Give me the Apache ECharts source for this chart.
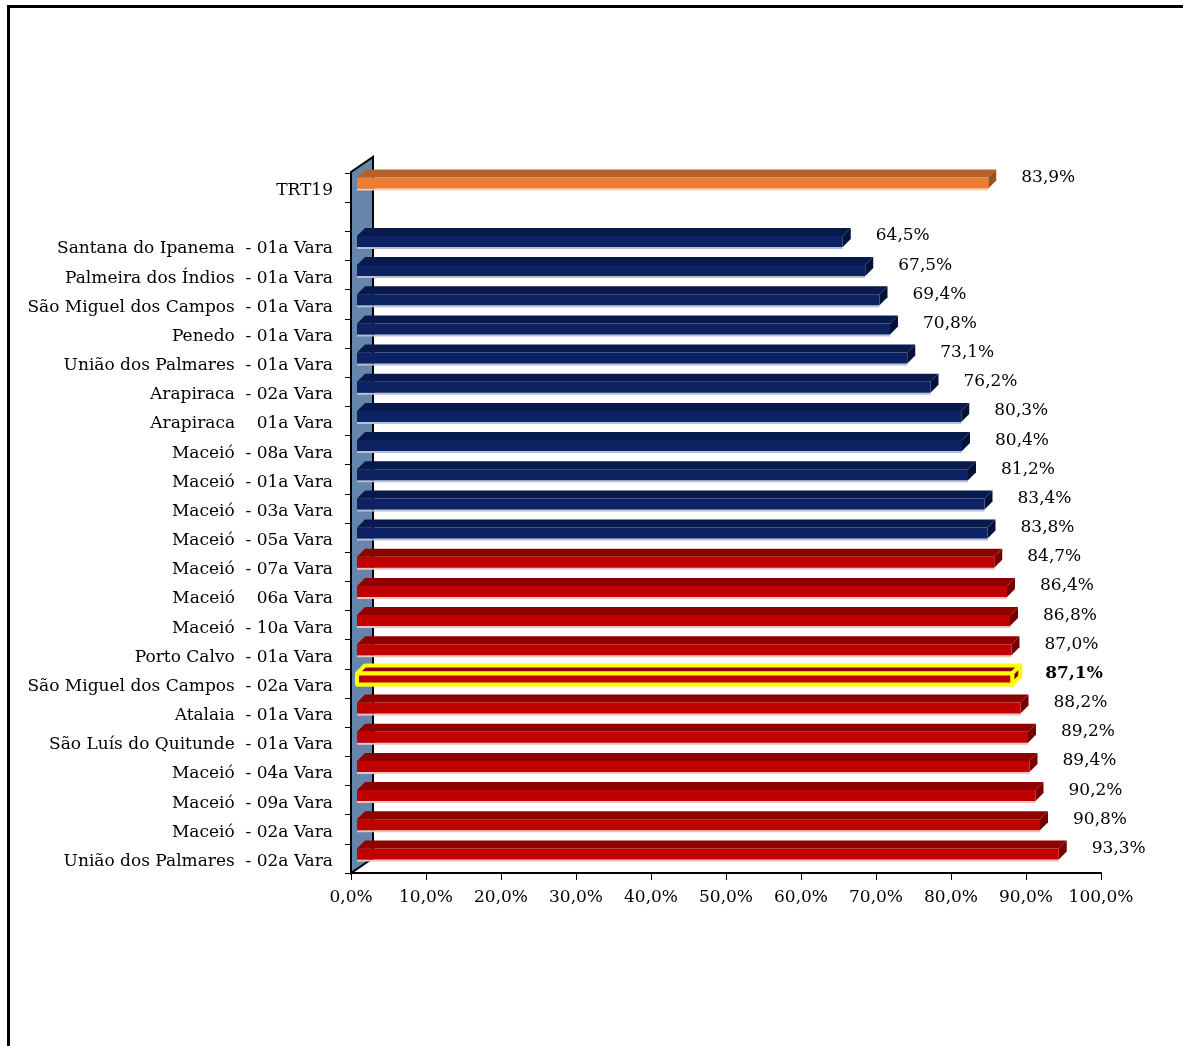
<!DOCTYPE html>
<html><head><meta charset="utf-8">
<script src="https://cdn.jsdelivr.net/npm/echarts@6/dist/echarts.min.js"></script>
<style>html,body{margin:0;padding:0;background:#fff}#c{width:1185px;height:1046px}</style>
</head><body><div id="c"></div>
<script>
// ---- data (top to bottom) ----
const categories = [
  'TRT19', '',
  'Santana do Ipanema  - 01a Vara',
  'Palmeira dos Índios  - 01a Vara',
  'São Miguel dos Campos  - 01a Vara',
  'Penedo  - 01a Vara',
  'União dos Palmares  - 01a Vara',
  'Arapiraca  - 02a Vara',
  'Arapiraca    01a Vara',
  'Maceió  - 08a Vara',
  'Maceió  - 01a Vara',
  'Maceió  - 03a Vara',
  'Maceió  - 05a Vara',
  'Maceió  - 07a Vara',
  'Maceió    06a Vara',
  'Maceió  - 10a Vara',
  'Porto Calvo  - 01a Vara',
  'São Miguel dos Campos  - 02a Vara',
  'Atalaia  - 01a Vara',
  'São Luís do Quitunde  - 01a Vara',
  'Maceió  - 04a Vara',
  'Maceió  - 09a Vara',
  'Maceió  - 02a Vara',
  'União dos Palmares  - 02a Vara'
];
const values = [83.9, null, 64.5, 67.5, 69.4, 70.8, 73.1, 76.2, 80.3, 80.4, 81.2, 83.4, 83.8,
  84.7, 86.4, 86.8, 87.0, 87.1, 88.2, 89.2, 89.4, 90.2, 90.8, 93.3];
const groups = ['trt', null, 'low','low','low','low','low','low','low','low','low','low','low',
  'high','high','high','high','high','high','high','high','high','high','high'];
const highlighted = 'São Miguel dos Campos  - 02a Vara';
const xMin = 0, xMax = 100, xStep = 10;

const palette = {
  trt:  {front:'#EE7D31', top:'#B5622A', side:'#9C501F', light:'#F8CFB0'},
  low:  {front:'#0C2262', top:'#081A4C', side:'#04123A', light:'#B8C0D8'},
  high: {front:'#C00000', top:'#8E0000', side:'#760000', light:'#F2C0C0'}
};
const SERIF = '"DejaVu Serif", "Liberation Serif", serif';
const fmt = v => v.toFixed(1).replace('.', ',') + '%';

const barData = [];
values.forEach((v, i) => { if (v != null) barData.push([v, i]); });

const chart = echarts.init(document.getElementById('c'), null, {renderer: 'canvas'});
chart.setOption({
  backgroundColor: '#fff',
  animation: false,
  graphic: [
    {type:'line', shape:{x1:8.5, y1:5, x2:8.5, y2:1046}, style:{stroke:'#000', lineWidth:3}},
    {type:'line', shape:{x1:7, y1:6.5, x2:1183, y2:6.5}, style:{stroke:'#000', lineWidth:3}}
  ],
  grid: {left: 351, right: 84, top: 173, height: 700},
  xAxis: {
    type: 'value', min: xMin, max: xMax, interval: xStep,
    axisLine: {show: true, lineStyle: {color: '#000', width: 2}},
    axisTick: {show: true, length: 7, lineStyle: {color: '#000', width: 1}},
    splitLine: {show: false},
    axisLabel: {formatter: fmt, fontFamily: SERIF, fontSize: 17, color: '#000', margin: 16}
  },
  yAxis: {
    type: 'category', data: categories, inverse: true,
    axisLine: {show: true, lineStyle: {color: '#000', width: 2}},
    axisTick: {show: true, length: 6, lineStyle: {color: '#000', width: 1}},
    axisLabel: {fontFamily: SERIF, fontSize: 17, color: '#000', margin: 18,
      verticalAlign: 'top', lineHeight: 6}
  },
  series: [
    {
      type: 'custom', z: 2, data: [[0]],
      renderItem: function (params, api) {
        const cs = params.coordSys;
        const x = cs.x, top = cs.y, bottom = cs.y + cs.height;
        return {
          type: 'polygon',
          shape: {points: [[x, bottom], [x, top - 1], [x + 22, top - 16], [x + 22, bottom - 15]]},
          style: {fill: '#6585AA', stroke: '#000', lineWidth: 2}
        };
      }
    },
    {
      type: 'custom', z: 3, data: barData,
      renderItem: function (params, api) {
        const v = api.value(0), idx = api.value(1);
        const p = api.coord([v, idx]);
        const o = api.coord([0, idx]);
        const cy = p[1];
        const x0 = o[0] + 6, x1 = p[0] + 8;
        const h = 11, dx = 8, dy = 8;
        const yf = cy - 10;
        const c = palette[groups[idx]];
        const hl = categories[idx] === highlighted;
        const stroke = hl ? {stroke: '#FFFF00', lineWidth: 4, lineJoin: 'round'} : {};
        const children = [
          {type: 'rect', shape: {x: x0, y: yf + h, width: x1 - x0, height: 2}, style: {fill: c.light}},
          {type: 'polygon', shape: {points: [[x0, yf], [x0 + dx, yf - dy], [x1 + dx, yf - dy], [x1, yf]]},
            style: Object.assign({fill: c.top}, stroke)},
          {type: 'polygon', shape: {points: [[x1, yf], [x1 + dx, yf - dy], [x1 + dx, yf - dy + h], [x1, yf + h]]},
            style: Object.assign({fill: c.side}, stroke)},
          {type: 'rect', shape: {x: x0, y: yf, width: x1 - x0, height: h},
            style: Object.assign({fill: c.front}, stroke)},
          {type: 'text', x: x1 + 33, y: cy - 10,
            style: {text: fmt(v), fill: '#000', font: (hl ? 'bold ' : '') + '17px ' + SERIF,
              textAlign: 'left', textVerticalAlign: 'middle'}}
        ];
        return {type: 'group', children: children};
      }
    }
  ]
});
</script>
</body></html>
